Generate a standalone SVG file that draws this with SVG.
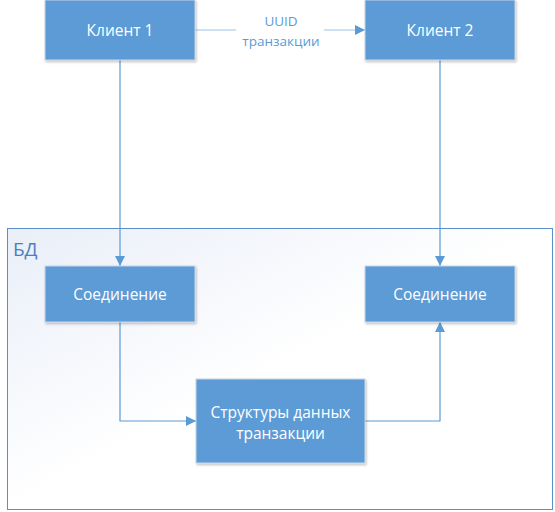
<svg xmlns="http://www.w3.org/2000/svg" width="555" height="512" viewBox="0 0 555 512">
<defs>
<linearGradient id="cg" x1="0" y1="0" x2="1" y2="1">
<stop offset="0" stop-color="#e9eef8"/>
<stop offset="0.5" stop-color="#ffffff"/>
<stop offset="1" stop-color="#ffffff"/>
</linearGradient>
<filter id="sh" x="-10%" y="-10%" width="130%" height="130%">
<feDropShadow dx="1" dy="1.5" stdDeviation="1.2" flood-color="#000" flood-opacity="0.25"/>
</filter>
<marker id="ar" viewBox="0 0 10 10" refX="10" refY="5" markerWidth="10" markerHeight="10" markerUnits="userSpaceOnUse" orient="auto">
<path d="M0,0 L10,5 L0,10 z" fill="#5b9bd5"/>
</marker>
</defs>
<style>
.box{fill:#5b9bd5;stroke:#c9d6e6;stroke-width:1;filter:url(#sh)}
.t{font-family:"Open Sans","Noto Sans",sans-serif;font-size:15.5px;fill:#ffffff;text-anchor:middle}
.e{fill:none;stroke:#5b9bd5;stroke-width:1.2}
.lbl{font-family:"Open Sans","Noto Sans",sans-serif;font-size:13.5px;fill:#5b9bd5;text-anchor:middle}
</style>
<g id="db">
<rect x="7.5" y="228.5" width="545" height="281" fill="url(#cg)" stroke="#5b8fc9" stroke-width="1"/>
<text x="13" y="256" font-family="Open Sans,Noto Sans,sans-serif" font-size="19" fill="#4a80c0">БД</text>
</g>
<g id="connectors">
<line class="e" x1="195" y1="30" x2="236" y2="30" style="stroke:#9dc3e6"/>
<line class="e" x1="324" y1="30" x2="365" y2="30" marker-end="url(#ar)" style="stroke:#9dc3e6"/>
<text class="lbl" x="281" y="26">UUID</text>
<text class="lbl" x="281" y="46">транзакции</text>
<line class="e" x1="120" y1="60" x2="120" y2="266" marker-end="url(#ar)"/>
<line class="e" x1="440" y1="60" x2="440" y2="266" marker-end="url(#ar)"/>
<polyline class="e" points="120,322 120,421 196,421" marker-end="url(#ar)"/>
<polyline class="e" points="365,421 440,421 440,322" marker-end="url(#ar)"/>
</g>
<g id="client1">
<rect class="box" x="45" y="0" width="150" height="60"/>
<text class="t" x="120" y="35.5">Клиент 1</text>
</g>
<g id="client2">
<rect class="box" x="365" y="0" width="150" height="60"/>
<text class="t" x="440" y="35.5">Клиент 2</text>
</g>
<g id="conn1">
<rect class="box" x="45" y="266" width="150" height="56"/>
<text class="t" x="120" y="299.5">Соединение</text>
</g>
<g id="conn2">
<rect class="box" x="365" y="266" width="150" height="56"/>
<text class="t" x="440" y="299.5">Соединение</text>
</g>
<g id="txdata">
<rect class="box" x="196" y="379" width="169" height="84"/>
<text class="t" x="280.5" y="417.5">Структуры данных</text>
<text class="t" x="280.5" y="439">транзакции</text>
</g>
</svg>
